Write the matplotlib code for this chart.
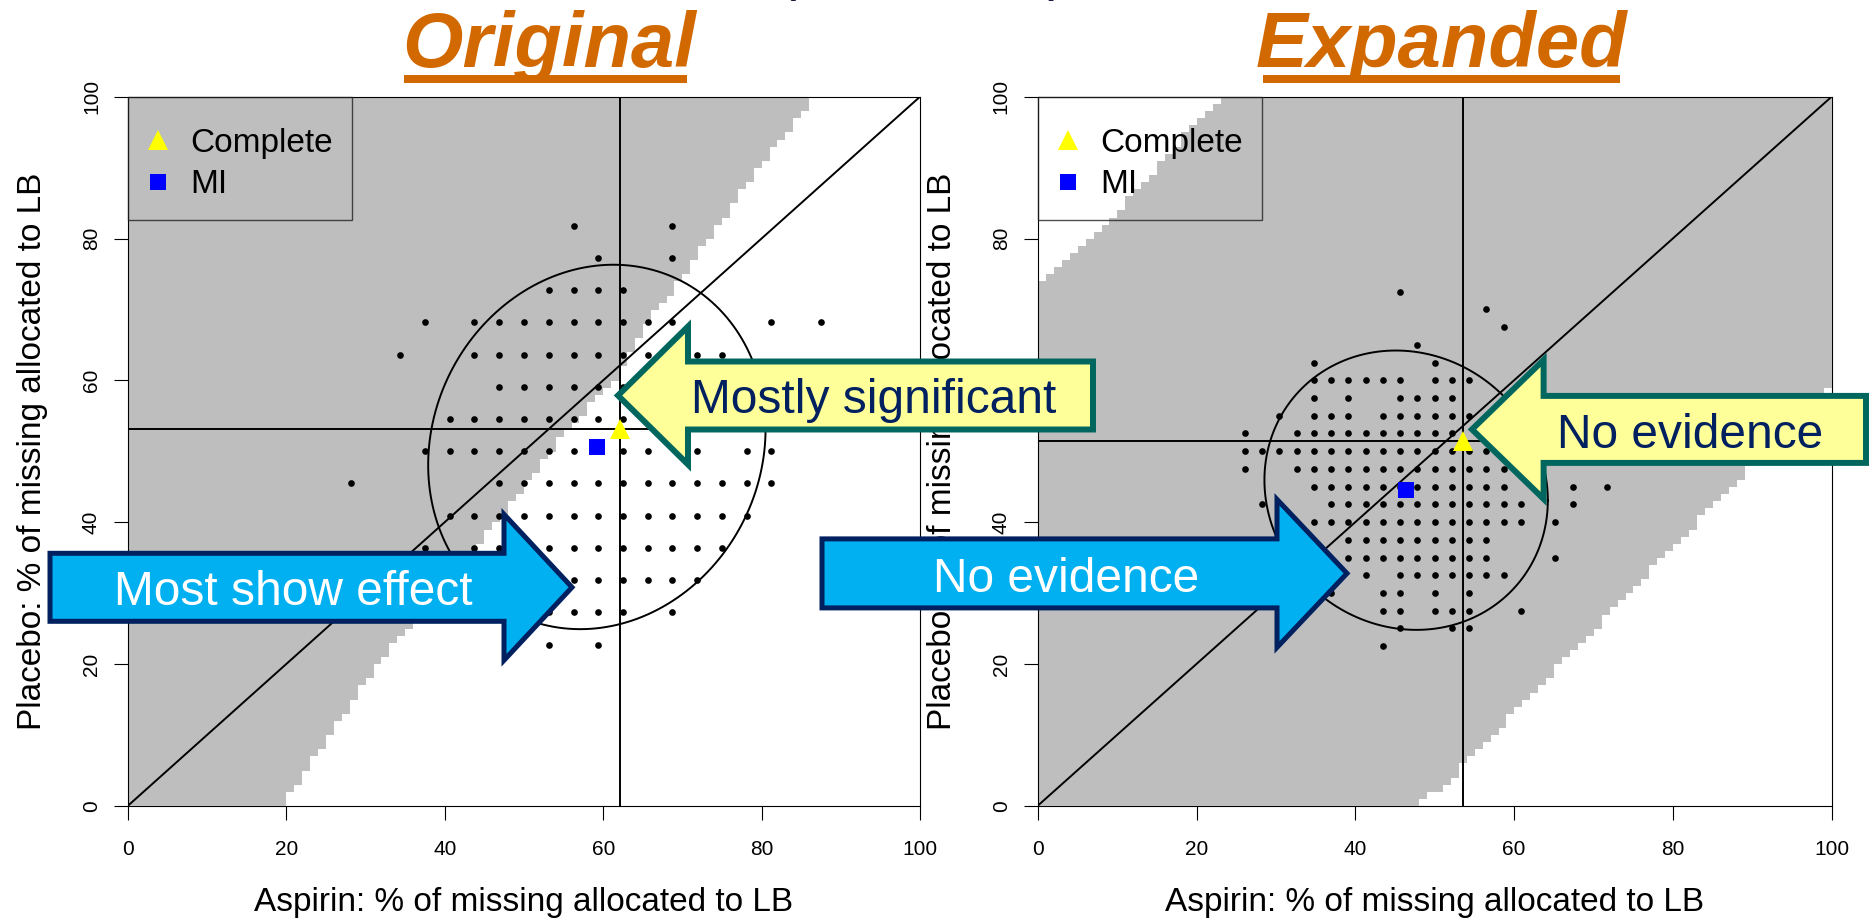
import numpy as np
import matplotlib
matplotlib.use('Agg')
import matplotlib.pyplot as plt
from matplotlib.lines import Line2D
from matplotlib.patches import Polygon, Rectangle

plt.rcParams['font.family'] = ['Liberation Sans', 'DejaVu Sans']

# ---------------- data ----------------
# number of missing outcomes per arm (dots sit on this grid)
orig_n_aspirin, orig_n_placebo = 32, 22
exp_n_aspirin, exp_n_placebo = 46, 40

# dots: placebo missing allocated to LB -> aspirin missing allocated to LB
orig_dots = {
    18: [18, 22],
    17: [19, 22],
    16: [17, 18, 19, 20],
    15: [12, 14, 15, 16, 17, 18, 19, 20, 21, 22, 26, 28],
    14: [11, 14, 15, 16, 17, 18, 19, 20, 21, 22, 23, 24],
    13: [15, 16, 17, 18, 19, 20, 21, 22],
    12: [13, 14, 15, 16, 17, 18, 19, 20, 21, 22],
    11: [12, 13, 14, 15, 16, 17, 18, 19, 20, 21, 23, 25, 26],
    10: [9, 15, 16, 17, 18, 19, 20, 21, 22, 23, 24, 25, 26],
    9: [13, 14, 15, 16, 17, 18, 19, 20, 21, 22, 23, 24, 25],
    8: [12, 14, 15, 16, 17, 18, 19, 20, 21, 22, 23, 24],
    7: [15, 16, 17, 18, 19, 20, 21, 22, 23],
    6: [17, 18, 19, 20, 22],
    5: [17, 19],
}
exp_dots = {
    29: [21],
    28: [26],
    27: [27],
    26: [22],
    25: [16, 23],
    24: [16, 17, 18, 19, 20, 21, 23, 24, 25],
    23: [16, 18, 21, 22, 23, 24],
    22: [14, 16, 17, 18, 20, 21, 22, 23, 24, 25],
    21: [12, 15, 16, 17, 18, 19, 20, 21, 22, 23, 24],
    20: [12, 13, 14, 15, 16, 17, 18, 19, 20, 21, 22, 23, 24, 25, 26],
    19: [12, 15, 16, 17, 18, 19, 20, 21, 22, 23, 24, 25, 26, 27],
    18: [16, 17, 18, 19, 20, 21, 22, 23, 24, 25, 26, 27, 31, 33],
    17: [13, 17, 18, 19, 20, 21, 22, 23, 24, 25, 26, 27, 28, 31],
    16: [16, 17, 18, 19, 20, 21, 22, 23, 24, 25, 26, 27, 28, 30],
    15: [18, 19, 20, 21, 22, 23, 24, 25, 26],
    14: [18, 19, 20, 21, 22, 23, 24, 25, 26, 30],
    13: [19, 21, 22, 23, 24, 25, 26, 27],
    12: [17, 20, 21, 23, 25],
    11: [20, 21, 23, 24, 25, 28],
    10: [21, 24, 25],
    9: [20],
}

# complete case and MI estimates (aspirin %, placebo %)
orig_complete = (62.1, 53.2)
orig_mi = (59.2, 50.6)
exp_complete = (53.6, 51.5)
exp_mi = (46.4, 44.5)

# ellipse round the MI estimate: sd aspirin, sd placebo, covariance
orig_ellipse = (21.3, 25.7, 54.0)
exp_ellipse = (17.85, 19.7, -25.6)

# grey (significant) region: aspirin % lies between lower and upper edge
orig_lo_y, orig_lo_x = [0, 100], [0, 0]
orig_hi_y = [0, 3.6, 19.9, 25.2, 40.3, 45.9, 53.2, 60, 68, 74.2, 88.3, 97, 100]
orig_hi_x = [19.3, 21.6, 31.5, 35.5, 46.7, 50.5, 55.6, 61.3, 65.4, 69.7, 78.5, 84.7, 86.6]
exp_lo_y, exp_lo_x = [73.7, 82.6, 92.9, 100], [0, 9.3, 17.1, 23.2]
exp_hi_y = [0, 3.6, 15.4, 17.7, 47.4, 59.3]
exp_hi_x = [47.8, 51.8, 61.9, 63.9, 89.4, 100]

ticks = [0, 20, 40, 60, 80, 100]
legend_labels = ['Complete', 'MI']
xlabel = 'Aspirin: % of missing allocated to LB'
ylabel = 'Placebo: % of missing allocated to LB'

# ---------------- figure ----------------
W, H = 1870, 918
fig = plt.figure(figsize=(W / 100, H / 100), dpi=100)


def fx(x):
    return x / W


def fy(y):
    return 1 - y / H


def draw_panel(ax, dots, nx, ny, complete, mi, ell, lo_y, lo_x, hi_y, hi_x):
    # grey cells
    c = np.arange(100) + 0.5
    X, Y = np.meshgrid(c, c)
    mask = (X >= np.interp(Y, lo_y, lo_x)) & (X <= np.interp(Y, hi_y, hi_x))
    img = np.zeros((100, 100, 4))
    img[mask] = (190 / 255, 190 / 255, 190 / 255, 1)
    ax.imshow(img, extent=(0, 100, 0, 100), origin='lower', interpolation='nearest',
              aspect='auto', zorder=1.5)

    xs, ys = [], []
    for j, cols in dots.items():
        for i in cols:
            xs.append(100 * i / nx)
            ys.append(100 * j / ny)
    ax.plot(xs, ys, 'o', color='black', ms=4.8, mew=0, zorder=3)

    ax.plot([0, 100], [0, 100], color='black', lw=1.4, zorder=3)
    ax.axvline(complete[0], color='black', lw=1.4, zorder=3)
    ax.axhline(complete[1], color='black', lw=1.4, zorder=3)

    sx, sy, cxy = ell
    L = np.linalg.cholesky(np.array([[sx ** 2, cxy], [cxy, sy ** 2]]))
    t = np.linspace(0, 2 * np.pi, 200)
    e = L @ np.vstack([np.cos(t), np.sin(t)])
    ax.plot(mi[0] + e[0], mi[1] + e[1], color='black', lw=1.4, zorder=3)

    ax.plot(*complete, '^', color='#FFFF00', ms=14, mew=0, zorder=5)
    ax.plot(*mi, 's', color='#0000FF', ms=11.5, mew=0, zorder=5)

    ax.set_xlim(0, 100)
    ax.set_ylim(0, 100)
    ax.set_xticks(ticks, [str(v) for v in ticks])
    ax.set_yticks(ticks, [str(v) for v in ticks], rotation=90, va='center')
    ax.tick_params(length=10, width=0.8, labelsize=15, direction='out')
    ax.tick_params(axis='x', pad=14.5)
    ax.tick_params(axis='y', pad=9.5)
    for side in ['top', 'left', 'bottom', 'right']:
        ax.spines[side].set_linewidth(0.8)
    ax.spines['bottom'].set_zorder(1)
    ax.spines['right'].set_zorder(1)

    ax.set_xlabel(xlabel, fontsize=24)
    ax.set_ylabel(ylabel, fontsize=24)
    ax.xaxis.label.set_verticalalignment('center')
    ax.yaxis.label.set_verticalalignment('center')
    ax.xaxis.set_label_coords(0.5, -0.136)
    ax.yaxis.set_label_coords(-0.12, 0.5)

    handles = [Line2D([], [], marker='^', ls='', color='#FFFF00', ms=14, mew=0),
               Line2D([], [], marker='s', ls='', color='#0000FF', ms=11.5, mew=0)]
    # a blank, tiny title gives the extra room above the entries
    leg = ax.legend(handles, legend_labels, loc='upper left', bbox_to_anchor=(0, 1),
                    borderaxespad=0, fontsize=24, frameon=True, fancybox=False,
                    facecolor='none', edgecolor='#222222', borderpad=0.58,
                    labelspacing=0.32, handlelength=0.65, handletextpad=0.63,
                    title=' ', title_fontsize=1)
    leg.get_frame().set_linewidth(1.0)
    leg.set_zorder(6)


ax1 = fig.add_axes([fx(128), fy(805.7), 792 / W, 709 / H])
ax2 = fig.add_axes([fx(1037.8), fy(805.7), 793.8 / W, 709 / H])
draw_panel(ax1, orig_dots, orig_n_aspirin, orig_n_placebo, orig_complete, orig_mi,
           orig_ellipse, orig_lo_y, orig_lo_x, orig_hi_y, orig_hi_x)
draw_panel(ax2, exp_dots, exp_n_aspirin, exp_n_placebo, exp_complete, exp_mi,
           exp_ellipse, exp_lo_y, exp_lo_x, exp_hi_y, exp_hi_x)

# titles with underline
orange = '#D26900'
for label, cx, x0, x1 in [('Original', 549, 404, 687), ('Expanded', 1441, 1263, 1620)]:
    fig.text(fx(cx), fy(67), label, ha='center', va='baseline', fontsize=56,
             fontweight='bold', fontstyle='italic', color=orange)
    fig.add_artist(Rectangle((fx(x0), fy(83)), (x1 - x0) / W, 8 / H,
                             transform=fig.transFigure, color=orange, lw=0))

# slide title cut off at the top
fig.text(fx(787), fy(1), '(', ha='center', va='bottom', fontsize=40, color='#1a1a40')
fig.text(fx(1057), fy(1), ')', ha='center', va='bottom', fontsize=40, color='#1a1a40')


# block arrows overlaid on the figure
def block_arrow(tip_x, tip_y, base_x, tail_x, shaft_h, head_h, fc, ec, lw):
    pts = [(tail_x, tip_y - shaft_h / 2), (base_x, tip_y - shaft_h / 2),
           (base_x, tip_y - head_h / 2), (tip_x, tip_y),
           (base_x, tip_y + head_h / 2), (base_x, tip_y + shaft_h / 2),
           (tail_x, tip_y + shaft_h / 2)]
    fig.add_artist(Polygon([(fx(x), fy(y)) for x, y in pts], closed=True,
                           transform=fig.transFigure, fc=fc, ec=ec, lw=lw,
                           joinstyle='miter'))


yellow, teal = '#FFFF99', '#00665E'
blue, navy = '#00B0F0', '#002060'
block_arrow(618, 395.5, 688, 1093, 68, 138, yellow, teal, 4.3)
block_arrow(572, 587.3, 504, 50, 68, 146, blue, navy, 3.6)
block_arrow(1347, 573.4, 1277, 822, 69, 148, blue, navy, 3.6)
block_arrow(1472, 429.4, 1543.6, 1866, 67, 139, yellow, teal, 4.3)

arrow_font = 34.5
fig.text(fx(874), fy(413.4), 'Mostly significant', ha='center', va='baseline',
         fontsize=arrow_font, color=navy)
fig.text(fx(293.6), fy(605.2), 'Most show effect', ha='center', va='baseline',
         fontsize=arrow_font, color='white')
fig.text(fx(1066), fy(591.9), 'No evidence', ha='center', va='baseline',
         fontsize=arrow_font, color='white')
fig.text(fx(1690), fy(447.7), 'No evidence', ha='center', va='baseline',
         fontsize=arrow_font, color=navy)

fig.savefig('out.png', dpi=100)
